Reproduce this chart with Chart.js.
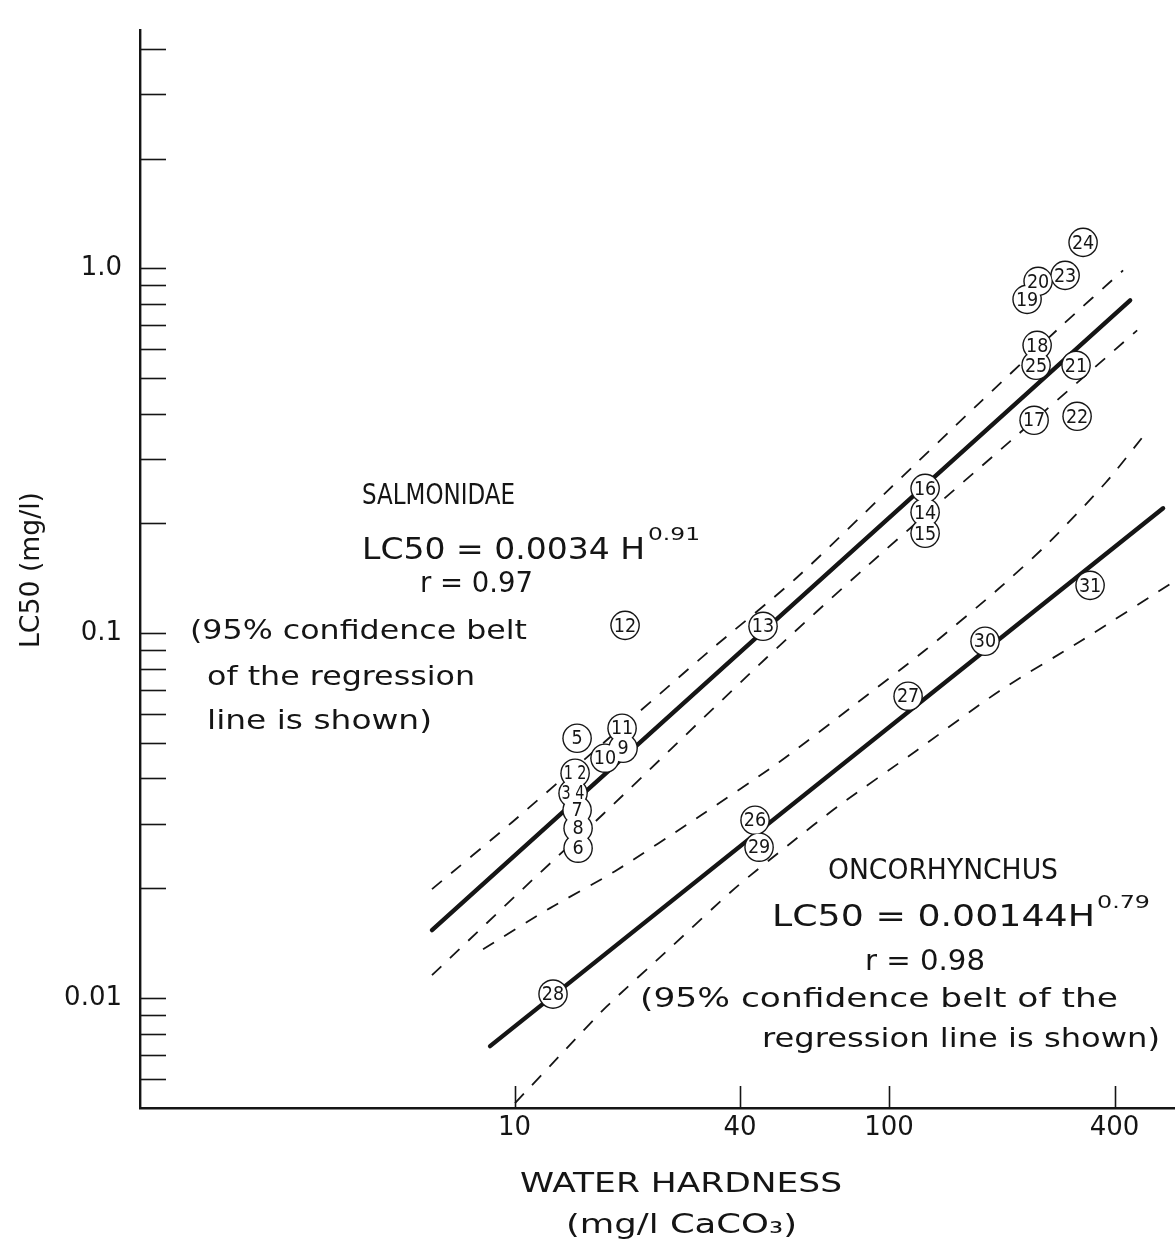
<!DOCTYPE html>
<html><head><meta charset="utf-8">
<script src="https://cdn.jsdelivr.net/npm/chart.js@4.4.1/dist/chart.umd.min.js"></script>
<style>html,body{margin:0;padding:0;background:#fff;overflow:hidden}</style>
</head><body>
<canvas id="c" width="1175" height="1244"></canvas>
<script>
// ---------- DATA ----------
const salmLabels = ['1 2','3 4','5','6','7','8','9','10','11','12','13','14','15','16','17','18','19','20','21','22','23','24','25'];
const salmH  = [14.51,14.33,14.69,14.78,14.69,14.78,19.49,17.44,19.37,19.73,46.08,124.8,124.8,124.8,243.9,248.5,233.6,250.0,315.7,317.7,295.1,329.6,246.9];
const salmLC = [0.04135,0.03644,0.05156,0.02576,0.03274,0.02922,0.0484,0.04546,0.05492,0.1051,0.1045,0.2145,0.1879,0.2495,0.3834,0.6152,0.8224,0.9213,0.5424,0.3931,0.9568,1.178,0.5424];

const oncLabels = ['26','27','28','29','30','31'];
const oncH  = [43.87,112.4,12.67,44.97,180.4,344.1];
const oncLC = [0.03074,0.06722,0.01026,0.02592,0.09508,0.1353];

// regression lines
const salmFitH  = [6.02, 440.2];
const salmFitLC = [0.01536, 0.8173];
const oncFitH   = [8.603, 539.0];
const oncFitLC  = [0.007387, 0.2201];

// 95% confidence belts
const salmUpH  = [6.02,9.85,33.07,56.45,100.0,175.0,289.7,421.5];
const salmUpLC = [0.01989,0.03035,0.08926,0.1415,0.2480,0.4295,0.6979,0.9875];
const salmLoH  = [6.02,11.14,17.23,46.94,87.88,210.4,459.6];
const salmLoLC = [0.01156,0.02105,0.03192,0.08541,0.1536,0.3357,0.6762];
const oncUpH   = [8.24,12.44,18.55,31.48,50.84,80.64,124.8,196.7,265.8,379.6,491.5];
const oncUpLC  = [0.01362,0.01765,0.02228,0.03172,0.04431,0.06351,0.08983,0.1328,0.1764,0.2593,0.3599];
const oncLoH   = [10.03,13.56,17.55,26.34,38.81,53.75,73.08,118.8,196.7,327.6,578];
const oncLoLC  = [0.005157,0.007158,0.009447,0.01388,0.02002,0.02625,0.03357,0.0478,0.06937,0.09568,0.1388];

// axis ticks
const xTickValues = [10,40,100,400];
const xTickLabels = ['10','40','100','400'];
const yMinorTicks = [0.006,0.007,0.008,0.009,0.02,0.03,0.04,0.05,0.06,0.07,0.08,0.09,0.2,0.3,0.4,0.5,0.6,0.7,0.8,0.9,2,3,4];
const yTickValues = [0.01,0.1,1];
const yTickLabels = ['0.01','0.1','1.0'];

// ---------- helpers ----------
const FONT = '"DejaVu Sans", "Liberation Sans", sans-serif';
const INK = '#151515';
const pts = (xs, ys) => xs.map((x,i) => ({x, y: ys[i]}));

function fitText(ctx, str, left, cy, width, size) {
  ctx.font = size + 'px ' + FONT;
  const m = ctx.measureText(str).width;
  ctx.save();
  ctx.translate(left, cy);
  ctx.scale(width / m, 1);
  ctx.textAlign = 'left';
  ctx.textBaseline = 'middle';
  ctx.fillStyle = INK;
  ctx.fillText(str, 0, 0);
  ctx.restore();
}

const decor = {
  id: 'decor',
  beforeDatasetsDraw(chart) {
    const ctx = chart.ctx, xs = chart.scales.x, ys = chart.scales.y;
    const left = chart.chartArea.left, bottom = chart.chartArea.bottom;
    ctx.save();
    ctx.strokeStyle = INK;
    ctx.lineWidth = 1.6;
    [...yMinorTicks, ...yTickValues].forEach(v => {
      const py = Math.round(ys.getPixelForValue(v)) + 0.5;
      ctx.beginPath(); ctx.moveTo(left, py); ctx.lineTo(left + 26, py); ctx.stroke();
    });
    xTickValues.forEach(v => {
      const px = Math.round(xs.getPixelForValue(v)) + 0.5;
      ctx.beginPath(); ctx.moveTo(px, bottom); ctx.lineTo(px, bottom - 22); ctx.stroke();
    });
    ctx.restore();
  },
  afterDatasetsDraw(chart) {
    const ctx = chart.ctx;
    ctx.save();
    ctx.fillStyle = INK;
    ctx.font = '20px ' + FONT;
    ctx.textAlign = 'center';
    ctx.textBaseline = 'middle';
    const put = (dsIndex, labels) => {
      chart.getDatasetMeta(dsIndex).data.forEach((el, i) => {
        const s = labels[i];
        ctx.save();
        ctx.translate(el.x, el.y + 1);
        ctx.scale(s.length > 2 ? 0.72 : 0.88, 1);
        ctx.fillText(s, 0, 0);
        ctx.restore();
      });
    };
    put(0, salmLabels);
    put(1, oncLabels);
    ctx.restore();

    fitText(ctx, 'SALMONIDAE', 362, 497, 153, 28);
    fitText(ctx, 'LC50 = 0.0034 H', 362, 551, 283, 30);
    fitText(ctx, '0.91', 648, 535, 52, 18);
    fitText(ctx, 'r = 0.97', 420, 584, 113, 29);
    fitText(ctx, '(95% confidence belt', 190, 632, 337, 27);
    fitText(ctx, 'of the regression', 207, 678, 268, 27);
    fitText(ctx, 'line is shown)', 207, 722, 225, 27);

    fitText(ctx, 'ONCORHYNCHUS', 828, 872, 230, 28);
    fitText(ctx, 'LC50 = 0.00144H', 772, 918, 323, 30);
    fitText(ctx, '0.79', 1097, 903, 53, 18);
    fitText(ctx, 'r = 0.98', 865, 962, 120, 29);
    fitText(ctx, '(95% confidence belt of the', 640, 1000, 478, 27);
    fitText(ctx, 'regression line is shown)', 762, 1040, 398, 27);

    fitText(ctx, 'WATER HARDNESS', 520, 1185, 322, 27);
    fitText(ctx, '(mg/l CaCO\u2083)', 566, 1226, 231, 27);
    ctx.save();
    ctx.translate(32, 570);
    ctx.rotate(-Math.PI / 2);
    fitText(ctx, 'LC50 (mg/l)', -78, 0, 156, 26);
    ctx.restore();
  }
};

const solid = (xs, ys) => ({
  data: pts(xs, ys), showLine: true, borderColor: INK, borderWidth: 4.4,
  pointRadius: 0, tension: 0, order: 2, borderCapStyle: 'round'
});
const dashed = (xs, ys) => ({
  data: pts(xs, ys), showLine: true, borderColor: INK, borderWidth: 1.8,
  borderDash: [13, 12], pointRadius: 0, tension: 0.25, order: 2
});
const ring = (xs, ys, r, color, ord) => ({
  data: pts(xs, ys), showLine: false, pointRadius: r, pointHoverRadius: r,
  pointBackgroundColor: color, pointBorderWidth: 0, pointBorderColor: color, order: ord
});

new Chart(document.getElementById('c'), {
  type: 'scatter',
  data: {
    datasets: [
      ring(salmH, salmLC, 13.4, '#ffffff', 0),
      ring(oncH, oncLC, 13.4, '#ffffff', 0),
      ring(salmH, salmLC, 14.8, INK, 1),
      ring(oncH, oncLC, 14.8, INK, 1),
      solid(salmFitH, salmFitLC),
      solid(oncFitH, oncFitLC),
      dashed(salmUpH, salmUpLC),
      dashed(salmLoH, salmLoLC),
      dashed(oncUpH, oncUpLC),
      dashed(oncLoH, oncLoLC)
    ]
  },
  options: {
    responsive: false,
    animation: false,
    devicePixelRatio: 1,
    layout: { autoPadding: false, padding: { top: 30, right: 0, left: 0, bottom: 0 } },
    plugins: { legend: { display: false }, tooltip: { enabled: false } },
    scales: {
      x: {
        type: 'logarithmic', position: 'bottom', min: 1, max: 580,
        afterBuildTicks: s => { s.ticks = xTickValues.map(v => ({ value: v })); },
        afterFit: s => { s.height = 136; s.paddingLeft = 0; s.paddingRight = 0; },
        grid: { display: false, drawTicks: false },
        border: { display: true, color: INK, width: 2.4 },
        ticks: {
          autoSkip: false, maxRotation: 0, padding: 5, color: INK,
          font: { family: FONT, size: 26 },
          callback: v => { const i = xTickValues.indexOf(v); return i >= 0 ? xTickLabels[i] : ''; }
        }
      },
      y: {
        type: 'logarithmic', position: 'left', min: 0.005, max: 4.5,
        afterBuildTicks: s => { s.ticks = yTickValues.map(v => ({ value: v })); },
        afterFit: s => { s.width = 140; s.paddingTop = 0; s.paddingBottom = 0; },
        grid: { display: false, drawTicks: false },
        border: { display: true, color: INK, width: 2.4 },
        ticks: {
          autoSkip: false, padding: 18, color: INK,
          font: { family: FONT, size: 26 },
          callback: v => { const i = yTickValues.indexOf(v); return i >= 0 ? yTickLabels[i] : ''; }
        }
      }
    }
  },
  plugins: [decor]
});
</script>
</body></html>
